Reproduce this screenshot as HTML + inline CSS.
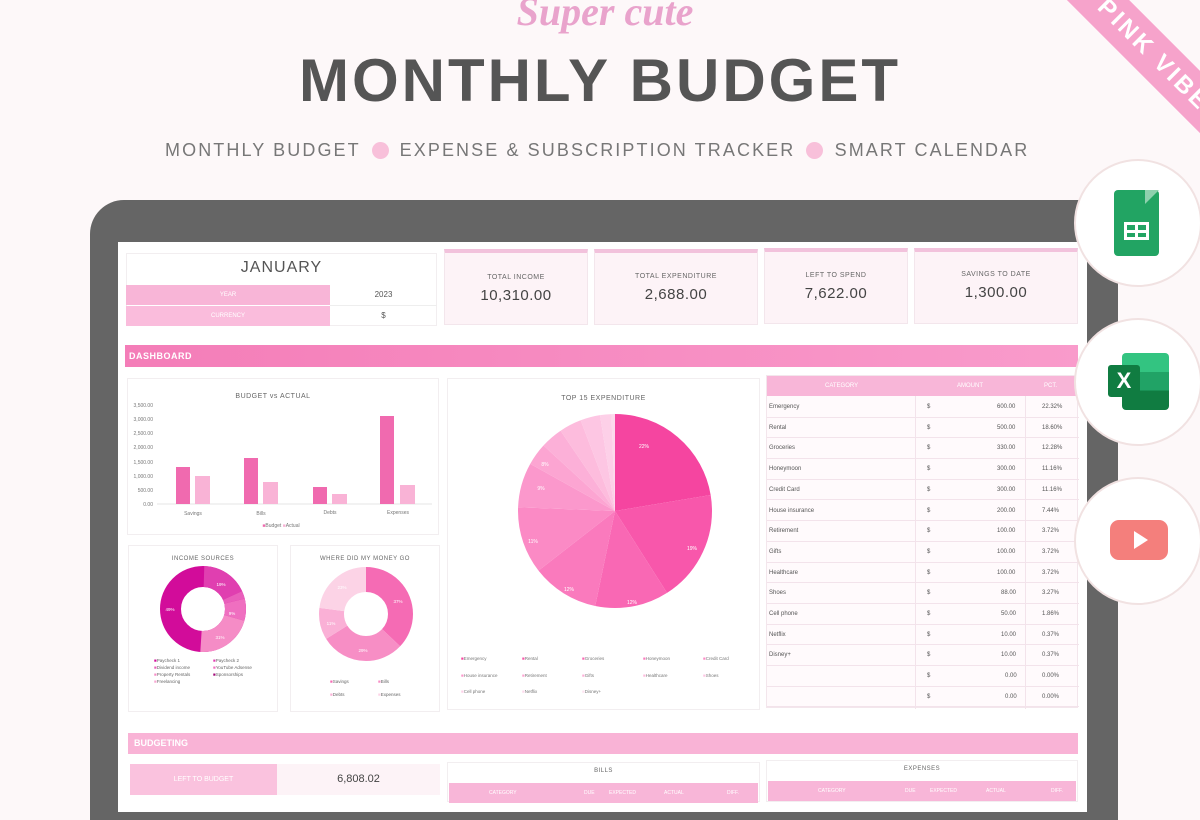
<!DOCTYPE html>
<html><head><meta charset="utf-8"><style>
*{margin:0;padding:0;box-sizing:border-box}
body{width:1200px;height:800px;overflow:hidden;background:#fdf8f9;font-family:"Liberation Sans",sans-serif;position:relative}
.a{position:absolute}
.c{text-align:center}
.lbl{font-size:7px;color:#666;letter-spacing:.5px}
.val{font-size:15px;color:#444;letter-spacing:.5px}
.card{background:#fdf3f7;border:1px solid #f3e6ec}
.panel{background:#fff;border:1px solid #f2eef0}
.row{position:absolute;left:0;width:312px;height:20.7px;border-bottom:1px solid #f3e3eb;font-size:6px;color:#555;line-height:20px}
</style></head><body>
<!-- ribbon -->
<div class="a" style="left:1030px;top:40px;width:260px;height:44px;background:#f6a3cb;transform:rotate(45deg);transform-origin:center;color:#fff;font-weight:bold;font-size:24px;letter-spacing:3px;line-height:44px;text-align:center">PINK VIBES</div>
<!-- titles -->
<div class="a c" style="left:400px;top:-12px;width:410px;font-family:'Liberation Serif',serif;font-style:italic;font-weight:bold;font-size:40px;color:#e9a3cc">Super cute</div>
<div class="a c" style="left:250px;top:46px;width:700px;font-weight:bold;font-size:60px;color:#555;letter-spacing:3px">MONTHLY BUDGET</div>
<div class="a" style="left:165px;top:140px;font-size:18px;color:#777;letter-spacing:2.1px;white-space:nowrap">MONTHLY BUDGET <span style="display:inline-block;width:17px;height:17px;border-radius:50%;background:#f8c0da;vertical-align:-3px;margin:0 4px"></span> EXPENSE &amp; SUBSCRIPTION TRACKER <span style="display:inline-block;width:17px;height:17px;border-radius:50%;background:#f8c0da;vertical-align:-3px;margin:0 4px"></span> SMART CALENDAR</div>
<!-- laptop -->
<div class="a" style="left:90px;top:200px;width:1028px;height:620px;background:#656565;border-radius:34px 20px 0 0"></div>
<div class="a" style="left:118px;top:242px;width:969px;height:570px;background:#fff"></div>

<!-- January -->
<div class="a panel" style="left:126px;top:253px;width:311px;height:73px"></div>
<div class="a c" style="left:126px;top:259px;width:311px;font-size:16px;color:#555;letter-spacing:1px">JANUARY</div>
<div class="a" style="left:126px;top:285px;width:204px;height:20px;background:#f8b5d7;color:#fff;font-size:6px;line-height:20px;text-align:center">YEAR</div>
<div class="a" style="left:126px;top:306px;width:204px;height:20px;background:#fabcdc;color:#fff;font-size:6px;line-height:20px;text-align:center">CURRENCY</div>
<div class="a c" style="left:330px;top:285px;width:107px;font-size:8px;line-height:20px;color:#555;border-bottom:1px solid #eee">2023</div>
<div class="a c" style="left:330px;top:306px;width:107px;font-size:8px;line-height:20px;color:#555">$</div>

<!-- KPI -->
<div class="a card" style="left:444px;top:249px;width:144px;height:76px;border-top:4px solid #f2c2dc"></div>
<div class="a card" style="left:594px;top:249px;width:164px;height:76px;border-top:4px solid #f2c2dc"></div>
<div class="a card" style="left:764px;top:248px;width:144px;height:76px;border-top:4px solid #f2c2dc"></div>
<div class="a card" style="left:914px;top:248px;width:164px;height:76px;border-top:4px solid #f2c2dc"></div>
<div class="a c lbl" style="left:444px;top:274px;width:144px">TOTAL INCOME</div>
<div class="a c val" style="left:444px;top:287px;width:144px">10,310.00</div>
<div class="a c lbl" style="left:594px;top:273px;width:164px">TOTAL EXPENDITURE</div>
<div class="a c val" style="left:594px;top:286px;width:164px">2,688.00</div>
<div class="a c lbl" style="left:764px;top:272px;width:144px">LEFT TO SPEND</div>
<div class="a c val" style="left:764px;top:285px;width:144px">7,622.00</div>
<div class="a c lbl" style="left:914px;top:271px;width:164px">SAVINGS TO DATE</div>
<div class="a c val" style="left:914px;top:284px;width:164px">1,300.00</div>

<!-- dashboard bar -->
<div class="a" style="left:125px;top:345px;width:953px;height:22px;background:linear-gradient(90deg,#f47db8,#f99bcb);color:#fff;font-weight:bold;font-size:9px;line-height:22px;padding-left:4px;letter-spacing:.5px">DASHBOARD</div>

<!-- Budget vs actual -->
<div class="a panel" style="left:127px;top:378px;width:312px;height:157px"></div>
<div class="a c lbl" style="left:127px;top:393px;width:292px;font-size:7px">BUDGET vs ACTUAL</div>
<svg class="a" style="left:127px;top:378px" width="312" height="157">
<g font-size="5" fill="#777" font-family="Liberation Sans" text-anchor="end">
<text x="26" y="29">3,500.00</text><text x="26" y="43">3,000.00</text><text x="26" y="57">2,500.00</text><text x="26" y="71">2,000.00</text><text x="26" y="86">1,500.00</text><text x="26" y="100">1,000.00</text><text x="26" y="114">500.00</text><text x="26" y="128">0.00</text></g>
<line x1="30" y1="126" x2="305" y2="126" stroke="#e6e6e6"/>
<rect x="49" y="89" width="14" height="37" fill="#f06aaf"/><rect x="68" y="98" width="15" height="28" fill="#f9b3d6"/>
<rect x="117" y="80" width="14" height="46" fill="#f06aaf"/><rect x="136" y="104" width="15" height="22" fill="#f9b3d6"/>
<rect x="186" y="109" width="14" height="17" fill="#f06aaf"/><rect x="205" y="116" width="15" height="10" fill="#f9b3d6"/>
<rect x="253" y="38" width="14" height="88" fill="#f06aaf"/><rect x="273" y="107" width="15" height="19" fill="#f9b3d6"/>
<g font-size="5" fill="#777" text-anchor="middle"><text x="66" y="137">Savings</text><text x="134" y="137">Bills</text><text x="203" y="136">Debts</text><text x="271" y="136">Expenses</text>
<text x="154" y="149"><tspan fill="#f06aaf">■</tspan>Budget <tspan fill="#f9b3d6">■</tspan>Actual</text></g>
</svg>

<!-- Top 15 -->
<div class="a panel" style="left:447px;top:378px;width:313px;height:332px"></div>
<div class="a c lbl" style="left:447px;top:395px;width:313px;font-size:7px">TOP 15 EXPENDITURE</div>
<svg class="a" style="left:447px;top:378px" width="313" height="332">
<g transform="rotate(-90 168 133)" fill="none" stroke-width="97">
<circle cx="168" cy="133" r="48.5" stroke="#f545a0" stroke-dasharray="68 400"/>
<circle cx="168" cy="133" r="48.5" stroke="#f857ab" stroke-dasharray="0 68 56.7 400"/>
<circle cx="168" cy="133" r="48.5" stroke="#f968b4" stroke-dasharray="0 124.7 37.4 400"/>
<circle cx="168" cy="133" r="48.5" stroke="#fa7abd" stroke-dasharray="0 162.1 34 400"/>
<circle cx="168" cy="133" r="48.5" stroke="#fb8ac5" stroke-dasharray="0 196.1 34 400"/>
<circle cx="168" cy="133" r="48.5" stroke="#fb98cc" stroke-dasharray="0 230.1 22.7 400"/>
<circle cx="168" cy="133" r="48.5" stroke="#fca5d2" stroke-dasharray="0 252.8 11.3 400"/>
<circle cx="168" cy="133" r="48.5" stroke="#fcb0d8" stroke-dasharray="0 264.1 11.3 400"/>
<circle cx="168" cy="133" r="48.5" stroke="#fdbcdd" stroke-dasharray="0 275.4 11.3 400"/>
<circle cx="168" cy="133" r="48.5" stroke="#fdc6e3" stroke-dasharray="0 286.7 10 400"/>
<circle cx="168" cy="133" r="48.5" stroke="#fdd0e8" stroke-dasharray="0 296.7 5.7 400"/>
<circle cx="168" cy="133" r="48.5" stroke="#fdd9ec" stroke-dasharray="0 302.4 2.3 400"/>
</g>
<g font-size="5" fill="#fff" text-anchor="middle"><text x="197" y="70">22%</text><text x="245" y="172">19%</text><text x="185" y="226">12%</text><text x="122" y="213">12%</text><text x="86" y="165">11%</text><text x="94" y="112">9%</text><text x="98" y="88">8%</text></g>
<g font-size="4.5" fill="#777">
<text x="14" y="282"><tspan fill="#f545a0">■</tspan>Emergency</text><text x="75" y="282"><tspan fill="#f857ab">■</tspan>Rental</text><text x="135" y="282"><tspan fill="#f968b4">■</tspan>Groceries</text><text x="196" y="282"><tspan fill="#fa7abd">■</tspan>Honeymoon</text><text x="256" y="282"><tspan fill="#fb8ac5">■</tspan>Credit Card</text>
<text x="14" y="299"><tspan fill="#fb98cc">■</tspan>House insurance</text><text x="75" y="299"><tspan fill="#fca5d2">■</tspan>Retirement</text><text x="135" y="299"><tspan fill="#fcb0d8">■</tspan>Gifts</text><text x="196" y="299"><tspan fill="#fdbcdd">■</tspan>Healthcare</text><text x="256" y="299"><tspan fill="#fdc6e3">■</tspan>Shoes</text>
<text x="14" y="315"><tspan fill="#fdd0e8">■</tspan>Cell phone</text><text x="75" y="315"><tspan fill="#fdd9ec">■</tspan>Netflix</text><text x="135" y="315"><tspan fill="#fee2f1">■</tspan>Disney+</text></g>
</svg>

<!-- Table -->
<div class="a" style="left:766px;top:375px;width:312px;height:333px;background:#fffafc;border:1px solid #f3e6ec">
<div style="position:absolute;left:0;top:0;width:312px;height:20px;background:#f8b6d8;color:#fff;font-size:6px;line-height:20px">
<span class="a" style="left:58px">CATEGORY</span><span class="a" style="left:190px">AMOUNT</span><span class="a" style="left:277px">PCT.</span></div>
<div class="a" style="left:148px;top:20px;width:1px;height:313px;background:#f3e3eb"></div>
<div class="a" style="left:258px;top:20px;width:1px;height:313px;background:#f3e3eb"></div>
<div class="row" style="top:21px"><span class="a" style="left:2px">Emergency</span><span class="a" style="left:160px">$</span><span class="a" style="left:230px">600.00</span><span class="a" style="left:275px">22.32%</span></div>
<div class="row" style="top:41.7px"><span class="a" style="left:2px">Rental</span><span class="a" style="left:160px">$</span><span class="a" style="left:230px">500.00</span><span class="a" style="left:275px">18.60%</span></div>
<div class="row" style="top:62.4px"><span class="a" style="left:2px">Groceries</span><span class="a" style="left:160px">$</span><span class="a" style="left:230px">330.00</span><span class="a" style="left:275px">12.28%</span></div>
<div class="row" style="top:83.1px"><span class="a" style="left:2px">Honeymoon</span><span class="a" style="left:160px">$</span><span class="a" style="left:230px">300.00</span><span class="a" style="left:275px">11.16%</span></div>
<div class="row" style="top:103.8px"><span class="a" style="left:2px">Credit Card</span><span class="a" style="left:160px">$</span><span class="a" style="left:230px">300.00</span><span class="a" style="left:275px">11.16%</span></div>
<div class="row" style="top:124.5px"><span class="a" style="left:2px">House insurance</span><span class="a" style="left:160px">$</span><span class="a" style="left:230px">200.00</span><span class="a" style="left:275px">7.44%</span></div>
<div class="row" style="top:145.2px"><span class="a" style="left:2px">Retirement</span><span class="a" style="left:160px">$</span><span class="a" style="left:230px">100.00</span><span class="a" style="left:275px">3.72%</span></div>
<div class="row" style="top:165.9px"><span class="a" style="left:2px">Gifts</span><span class="a" style="left:160px">$</span><span class="a" style="left:230px">100.00</span><span class="a" style="left:275px">3.72%</span></div>
<div class="row" style="top:186.6px"><span class="a" style="left:2px">Healthcare</span><span class="a" style="left:160px">$</span><span class="a" style="left:230px">100.00</span><span class="a" style="left:275px">3.72%</span></div>
<div class="row" style="top:207.3px"><span class="a" style="left:2px">Shoes</span><span class="a" style="left:160px">$</span><span class="a" style="left:234px">88.00</span><span class="a" style="left:275px">3.27%</span></div>
<div class="row" style="top:228px"><span class="a" style="left:2px">Cell phone</span><span class="a" style="left:160px">$</span><span class="a" style="left:234px">50.00</span><span class="a" style="left:275px">1.86%</span></div>
<div class="row" style="top:248.7px"><span class="a" style="left:2px">Netflix</span><span class="a" style="left:160px">$</span><span class="a" style="left:234px">10.00</span><span class="a" style="left:275px">0.37%</span></div>
<div class="row" style="top:269.4px"><span class="a" style="left:2px">Disney+</span><span class="a" style="left:160px">$</span><span class="a" style="left:234px">10.00</span><span class="a" style="left:275px">0.37%</span></div>
<div class="row" style="top:290.1px"><span class="a" style="left:160px">$</span><span class="a" style="left:238px">0.00</span><span class="a" style="left:275px">0.00%</span></div>
<div class="row" style="top:310.8px"><span class="a" style="left:160px">$</span><span class="a" style="left:238px">0.00</span><span class="a" style="left:275px">0.00%</span></div>
</div>

<!-- Income sources -->
<div class="a panel" style="left:128px;top:545px;width:150px;height:167px"></div>
<div class="a c lbl" style="left:128px;top:556px;width:150px;font-size:6px">INCOME SOURCES</div>
<svg class="a" style="left:128px;top:545px" width="150" height="167">
<g transform="rotate(-90 75 64)" fill="none" stroke-width="21">
<circle cx="75" cy="64" r="32.5" stroke="#d20c9a" stroke-dasharray="204.2 300"/>
<circle cx="75" cy="64" r="32.5" stroke="#e03fb0" stroke-dasharray="0 1 36 300"/>
<circle cx="75" cy="64" r="32.5" stroke="#e95fbb" stroke-dasharray="0 37 6 300"/>
<circle cx="75" cy="64" r="32.5" stroke="#ef6fc0" stroke-dasharray="0 43 17 300"/>
<circle cx="75" cy="64" r="32.5" stroke="#f58cc6" stroke-dasharray="0 60 44 300"/>
</g>
<g font-size="4.5" fill="#fff" text-anchor="middle"><text x="42" y="66">49%</text><text x="93" y="41">19%</text><text x="104" y="70">9%</text><text x="92" y="94">31%</text></g>
<g font-size="4.5" fill="#666">
<text x="26" y="117"><tspan fill="#d20c9a">■</tspan>Paycheck 1</text><text x="85" y="117"><tspan fill="#e03fb0">■</tspan>Paycheck 2</text>
<text x="26" y="124"><tspan fill="#e95fbb">■</tspan>Dividend income</text><text x="85" y="124"><tspan fill="#ef6fc0">■</tspan>YouTube Adsense</text>
<text x="26" y="131"><tspan fill="#f58cc6">■</tspan>Property Rentals</text><text x="85" y="131"><tspan fill="#a00a78">■</tspan>Sponsorships</text>
<text x="26" y="138"><tspan fill="#f7a7d2">■</tspan>Freelancing</text></g>
</svg>

<!-- Where did money go -->
<div class="a panel" style="left:290px;top:545px;width:150px;height:167px"></div>
<div class="a c lbl" style="left:290px;top:556px;width:150px;font-size:6px">WHERE DID MY MONEY GO</div>
<svg class="a" style="left:290px;top:545px" width="150" height="167">
<g transform="rotate(-90 76 69)" fill="none" stroke-width="25">
<circle cx="76" cy="69" r="34.5" stroke="#f56bb4" stroke-dasharray="80.2 300"/>
<circle cx="76" cy="69" r="34.5" stroke="#f78ec5" stroke-dasharray="0 80.2 62.9 300"/>
<circle cx="76" cy="69" r="34.5" stroke="#fab0d6" stroke-dasharray="0 143.1 23.8 300"/>
<circle cx="76" cy="69" r="34.5" stroke="#fcd3e6" stroke-dasharray="0 166.9 50 300"/>
</g>
<g font-size="4.5" fill="#fff" text-anchor="middle"><text x="108" y="58">37%</text><text x="73" y="107">29%</text><text x="41" y="80">11%</text><text x="52" y="44">23%</text></g>
<g font-size="4.5" fill="#666"><text x="40" y="138"><tspan fill="#f56bb4">■</tspan>Savings</text><text x="88" y="138"><tspan fill="#f78ec5">■</tspan>Bills</text>
<text x="40" y="151"><tspan fill="#fab0d6">■</tspan>Debts</text><text x="88" y="151"><tspan fill="#fcd3e6">■</tspan>Expenses</text></g>
</svg>

<!-- Budgeting -->
<div class="a" style="left:128px;top:733px;width:950px;height:21px;background:#f9b3d6;color:#fff;font-weight:bold;font-size:9px;line-height:21px;padding-left:6px">BUDGETING</div>
<div class="a" style="left:130px;top:764px;width:147px;height:31px;background:#fac2de;color:#fff;font-size:7px;line-height:31px;text-align:center">LEFT TO BUDGET</div>
<div class="a c" style="left:277px;top:764px;width:163px;height:31px;background:#fdf3f7;font-size:11px;line-height:31px;color:#444">6,808.02</div>
<div class="a panel" style="left:447px;top:762px;width:313px;height:40px"></div>
<div class="a c lbl" style="left:447px;top:768px;width:313px;font-size:6px">BILLS</div>
<div class="a" style="left:449px;top:783px;width:309px;height:20px;background:#f8b6d8;color:#fff;font-size:5px;line-height:20px"><span class="a" style="left:40px">CATEGORY</span><span class="a" style="left:135px">DUE</span><span class="a" style="left:160px">EXPECTED</span><span class="a" style="left:215px">ACTUAL</span><span class="a" style="left:278px">DIFF.</span></div>
<div class="a panel" style="left:766px;top:760px;width:312px;height:42px"></div>
<div class="a c lbl" style="left:766px;top:766px;width:312px;font-size:6px">EXPENSES</div>
<div class="a" style="left:768px;top:781px;width:308px;height:20px;background:#f8b6d8;color:#fff;font-size:5px;line-height:20px"><span class="a" style="left:50px">CATEGORY</span><span class="a" style="left:137px">DUE</span><span class="a" style="left:162px">EXPECTED</span><span class="a" style="left:218px">ACTUAL</span><span class="a" style="left:283px">DIFF.</span></div>

<!-- app circles -->
<div class="a" style="left:1074px;top:159px;width:128px;height:128px;border-radius:50%;background:#fff;border:2px solid #f1e2e2"></div>
<div class="a" style="left:1114px;top:190px;width:45px;height:66px;background:#22a463;border-radius:4px"></div>
<div class="a" style="left:1145px;top:190px;width:0;height:0;border-left:14px solid #8ed1ae;border-bottom:14px solid transparent"></div>
<div class="a" style="left:1124px;top:222px;width:25px;height:18px;border:3px solid #fff;background:linear-gradient(#fff,#fff) 50% 0/3px 100% no-repeat,linear-gradient(#fff,#fff) 0 50%/100% 3px no-repeat"></div>
<div class="a" style="left:1074px;top:318px;width:128px;height:128px;border-radius:50%;background:#fff;border:2px solid #f1e2e2"></div>
<div class="a" style="left:1122px;top:353px;width:47px;height:57px;background:linear-gradient(#33c481 0,#33c481 33%,#21a366 33%,#21a366 66%,#107c41 66%);border-radius:4px"></div>
<div class="a c" style="left:1108px;top:365px;width:32px;height:32px;background:#107c41;color:#fff;font-weight:bold;font-size:22px;line-height:32px;border-radius:3px">X</div>
<div class="a" style="left:1074px;top:477px;width:128px;height:128px;border-radius:50%;background:#fff;border:2px solid #f1e2e2"></div>
<div class="a" style="left:1110px;top:520px;width:58px;height:40px;background:#f47f7c;border-radius:9px"></div>
<div class="a" style="left:1134px;top:531px;width:0;height:0;border-left:14px solid #fff;border-top:9px solid transparent;border-bottom:9px solid transparent"></div>
</body></html>
